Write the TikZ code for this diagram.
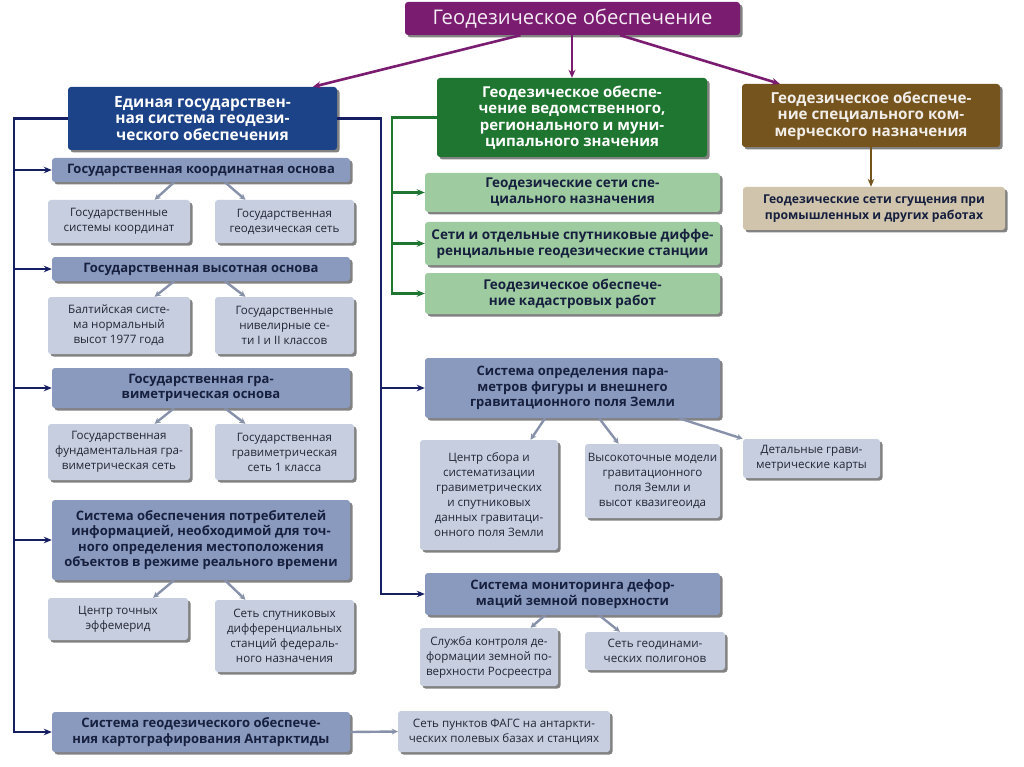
\documentclass[tikz,border=0pt]{standalone}
\usepackage{fontspec}
\setmainfont{Open Sans}
\usetikzlibrary{shadows,calc,arrows.meta}
\definecolor{cpurple}{RGB}{122,28,112}
\definecolor{cblue}{RGB}{28,66,136}
\definecolor{cgreen}{RGB}{30,118,48}
\definecolor{cbrown}{RGB}{118,84,30}
\definecolor{clgreen}{RGB}{158,204,160}
\definecolor{ctan}{RGB}{208,196,172}
\definecolor{chead}{RGB}{138,153,190}
\definecolor{csub}{RGB}{198,206,224}
\definecolor{cnavy}{RGB}{22,30,100}
\definecolor{cline}{RGB}{135,146,170}
\definecolor{ctext}{RGB}{22,32,62}
\definecolor{csubtext}{RGB}{35,38,52}
\begin{document}
\begin{tikzpicture}[x=1pt,y=-1pt,
  box/.style={rounded corners=3pt, inner sep=0pt, align=center,
    drop shadow={shadow xshift=2.5pt,shadow yshift=-2.5pt,fill=black!65,opacity=0.75}},
  sz/.style 2 args={minimum width=#1pt, minimum height=#2pt},
  big/.style={box, text=white, font=\fontsize{15.5}{16.5}\selectfont\bfseries},
  head/.style={box, fill=chead, text=ctext, font=\fontsize{13}{15.5}\selectfont\bfseries},
  sub/.style={box, fill=csub, text=csubtext, font=\fontsize{11.6}{15}\selectfont},
  gsub/.style={box, fill=clgreen, text=ctext, font=\fontsize{13.5}{16}\selectfont\bfseries},
  navyline/.style={draw=cnavy, line width=2.4pt},
  navyarrow/.style={navyline, -{Stealth[length=8pt,width=6.5pt]}},
  greenline/.style={draw=cgreen, line width=2.4pt},
  greenarrow/.style={greenline, -{Stealth[length=8pt,width=6.5pt]}},
  grayarrow/.style={draw=cline, line width=2.4pt, -{Stealth[length=6pt,width=6pt]}},
  purplearrow/.style={draw=cpurple, line width=2.6pt, -{Stealth[length=8pt,width=7pt]}},
  brownarrow/.style={draw=cbrown, line width=2.2pt, -{Stealth[length=8pt,width=6.5pt]}},
]
\fill[white] (0,0) rectangle (1024,767);
\useasboundingbox (0,0) rectangle (1024,767);

% top level
\node[box, fill=cpurple, text=white!92!cpurple, font=\fontsize{20.2}{22}\selectfont, sz={335}{33}] (top) at (572.5,18.5) {Геодезическое обеспечение};
\node[big, fill=cblue, sz={269}{63}] (ues) at (202.5,118.5) {Единая государствен-\\ная система геодези-\\ческого обеспечения};
\node[big, fill=cgreen, font=\fontsize{15}{16.5}\selectfont\bfseries, sz={270}{79}] (grn) at (572,117.5) {Геодезическое обеспе-\\чение ведомственного,\\регионального и муни-\\ципального значения};
\node[big, fill=cbrown, text=white!90!cbrown, font=\fontsize{15.2}{16.5}\selectfont\bfseries, sz={258}{63}] (brn) at (871,115.5) {Геодезическое обеспече-\\ние специального ком-\\мерческого назначения};
\node[box, fill=ctan, text=ctext, font=\fontsize{12.2}{16}\selectfont\bfseries, sz={262}{43}] (tan) at (874,208.5) {Геодезические сети сгущения при\\промышленных и других работах};

% green column
\node[gsub, sz={295}{39}] (g1) at (572.5,192.5) {Геодезические сети спе-\\циального назначения};
\node[gsub, sz={295}{43}] (g2) at (572.5,243.5) {Сети и отдельные спутниковые диффе-\\ренциальные геодезические станции};
\node[gsub, sz={295}{41}] (g3) at (572.5,293.5) {Геодезическое обеспече-\\ние кадастровых работ};

% left column
\node[head, sz={298}{24}] (k) at (201,170) {Государственная координатная основа};
\node[sub, sz={142}{43}] (k1) at (119,221.5) {Государственные\\системы координат};
\node[sub, sz={139}{43}] (k2) at (284.5,221.5) {Государственная\\геодезическая сеть};
\node[head, sz={298}{24}] (v) at (201,269) {Государственная высотная основа};
\node[sub, sz={142}{57}] (v1) at (119,325.5) {Балтийская систе-\\ма нормальный\\высот 1977 года};
\node[sub, sz={139}{57}] (v2) at (284.5,325.5) {Государственные\\нивелирные се-\\ти I и II классов};
\node[head, sz={298}{40}] (gr) at (201,388) {Государственная гра-\\виметрическая основа};
\node[sub, sz={142}{56}] (gr1) at (119,452) {Государственная\\фундаментальная гра-\\виметрическая сеть};
\node[sub, sz={139}{56}] (gr2) at (284.5,452) {Государственная\\гравиметрическая\\сеть 1 класса};
\node[head, sz={298}{80}] (sp) at (201,540) {Система обеспечения потребителей\\информацией, необходимой для точ-\\ного определения местоположения\\объектов в режиме реального времени};
\node[sub, sz={140}{42}] (sp1) at (118,619) {Центр точных\\эффемерид};
\node[sub, sz={139}{72}] (sp2) at (284.5,636) {Сеть спутниковых\\дифференциальных\\станций федераль-\\ного назначения};
\node[head, sz={298}{40}] (an) at (201,732) {Система геодезического обеспече-\\ния картографирования Антарктиды};
\node[sub, sz={212}{41}] (an1) at (504,731.5) {Сеть пунктов ФАГС на антаркти-\\ческих полевых базах и станциях};

% middle column
\node[head, sz={295}{60}] (so) at (572.5,388) {Система определения пара-\\метров фигуры и внешнего\\гравитационного поля Земли};
\node[sub, sz={138}{110}] (so1) at (489,495) {Центр сбора и\\систематизации\\гравиметрических\\и спутниковых\\данных гравитаци-\\онного поля Земли};
\node[sub, sz={135}{74}] (so2) at (652.5,481) {Высокоточные модели\\гравитационного\\поля Земли и\\высот квазигеоида};
\node[sub, sz={137}{39}] (so3) at (811.5,458.5) {Детальные грави-\\метрические карты};
\node[head, sz={295}{42}] (mo) at (572.5,594) {Система мониторинга дефор-\\маций земной поверхности};
\node[sub, sz={138}{58}] (mo1) at (489,657) {Служба контроля де-\\формации земной по-\\верхности Росреестра};
\node[sub, sz={140}{38}] (mo2) at (655,651) {Сеть геодинами-\\ческих полигонов};

% top arrows
\draw[purplearrow] ($(top.south west)!0.345!(top.south east)$) -- ($(ues.north west)!0.91!(ues.north east)$);
\draw[purplearrow] (top.south -| grn.north) -- (grn.north);
\draw[purplearrow] ($(top.south west)!0.642!(top.south east)$) -- ($(brn.north west)!0.147!(brn.north east)$);
\draw[brownarrow] (brn.south) -- (brn.south |- tan.north);

% left navy frame
\coordinate (L) at (14,118.5);
\draw[navyarrow] (ues.west) -- (L) -- (L |- an.west) -- (an.west);
\foreach \n in {k,v,gr,sp} \draw[navyarrow] (L |- \n.west) -- (\n.west);

% right navy frame
\coordinate (R) at (381,118.5);
\draw[navyarrow] (ues.east) -- (R) -- (R |- mo.west) -- (mo.west);
\draw[navyarrow] (R |- so.west) -- (so.west);

% green frame
\coordinate (G) at (392,117.5);
\draw[greenarrow] (grn.west) -- (G) -- (G |- g3.west) -- (g3.west);
\foreach \n in {g1,g2} \draw[greenarrow] (G |- \n.west) -- (\n.west);

% gray sub arrows
\foreach \h/\a/\b in {k/k1/k2, v/v1/v2, gr/gr1/gr2, sp/sp1/sp2} {
  \draw[grayarrow] ($(\h.south west)!0.41!(\h.south east)$) -- ($(\a.north west)!0.75!(\a.north east)$);
  \draw[grayarrow] ($(\h.south west)!0.58!(\h.south east)$) -- ($(\b.north west)!0.22!(\b.north east)$);
}
\draw[grayarrow] ($(so.south west)!0.407!(so.south east)$) -- ($(so1.north west)!0.8!(so1.north east)$);
\draw[grayarrow] ($(so.south west)!0.59!(so.south east)$) -- ($(so2.north west)!0.25!(so2.north east)$);
\draw[grayarrow] ($(so.south west)!0.86!(so.south east)$) -- (so3.north west);
\draw[grayarrow] ($(mo.south west)!0.407!(mo.south east)$) -- ($(mo1.north west)!0.8!(mo1.north east)$);
\draw[grayarrow] ($(mo.south west)!0.59!(mo.south east)$) -- ($(mo2.north west)!0.25!(mo2.north east)$);
\draw[grayarrow] (an.east) -- (an1.west);
\end{tikzpicture}
\end{document}
